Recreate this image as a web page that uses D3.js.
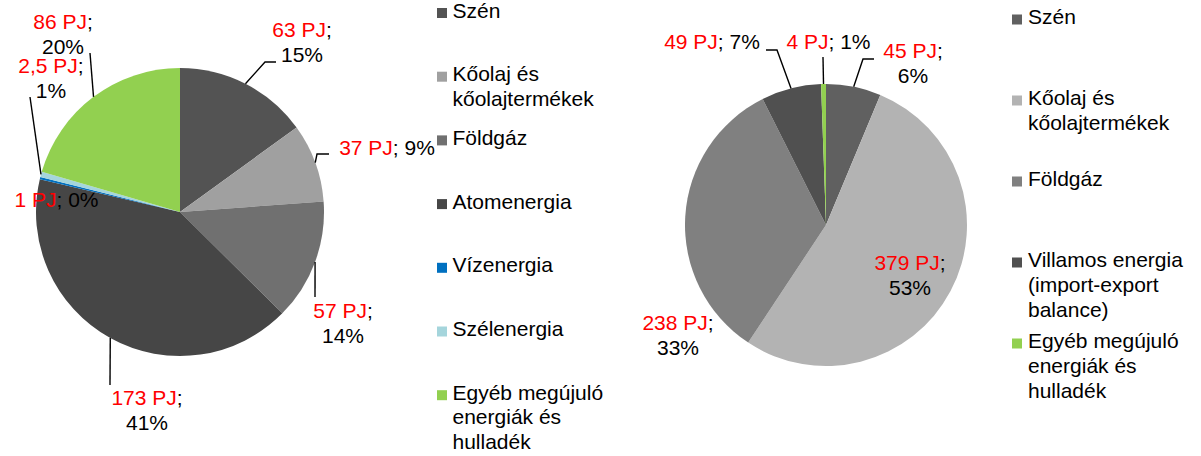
<!DOCTYPE html>
<html><head><meta charset="utf-8">
<script src="https://cdn.jsdelivr.net/npm/d3@7"></script>
<style>
html,body{margin:0;padding:0;background:#fff;}
svg{display:block;font-family:"Liberation Sans",Arial,sans-serif;}
</style></head>
<body>
<svg id="chart" width="1201" height="456"></svg>
<script>
// ---- data ----
const leftCategories = ["Szén","Kőolaj és kőolajtermékek","Földgáz","Atomenergia","Vízenergia","Szélenergia","Egyéb megújuló energiák és hulladék"];
const leftLegendLines = [["Szén"],["Kőolaj és","kőolajtermékek"],["Földgáz"],["Atomenergia"],["Vízenergia"],["Szélenergia"],["Egyéb megújuló","energiák és","hulladék"]];
const leftValues = [63, 37, 57, 173, 1, 2.5, 86];
const leftValueLabels = ["63 PJ","37 PJ","57 PJ","173 PJ","1 PJ","2,5 PJ","86 PJ"];
const leftPctLabels = ["15%","9%","14%","41%","0%","1%","20%"];

const rightCategories = ["Szén","Kőolaj és kőolajtermékek","Földgáz","Villamos energia (import-export balance)","Egyéb megújuló energiák és hulladék"];
const rightLegendLines = [["Szén"],["Kőolaj és","kőolajtermékek"],["Földgáz"],["Villamos energia","(import-export","balance)"],["Egyéb megújuló","energiák és","hulladék"]];
const rightValues = [45, 379, 238, 49, 4];
const rightValueLabels = ["45 PJ","379 PJ","238 PJ","49 PJ","4 PJ"];
const rightPctLabels = ["6%","53%","33%","7%","1%"];

// ---- styles / layout ----
const leftColors = ["#535353","#a0a0a0","#707070","#464646","#0070c0","#a5d5dc","#92d050"];
const rightColors = ["#606060","#b3b3b3","#808080","#505050","#92d050"];
const FS = 21;

// label layout relative to pie centre: [x, y(first baseline), oneLine, leaderPoints]
const leftLabelLayout = [
  [122,-175,false,[[85,-150],[96,-150]]],
  [207,-57,true,[[137,-58],[149,-58]]],
  [163,106,false,[[135,85]]],
  [-33,193,false,[[-70,173]]],
  [-123.5,-5,true,null],
  [-129,-139,false,[[-150,-115]]],
  [-117,-183,false,[[-90,-159]]]
];
const rightLabelLayout = [
  [87,-167,false,[[37,-166],[48,-166]]],
  [84,45,false,null],
  [-148,105,false,null],
  [-114,-176,true,[[-49,-175],[-60,-175]]],
  [2.5,-176,true,[[-3,-168]]]
];

const svg = d3.select("#chart");

function drawPie(cfg){
  const g = svg.append("g").attr("transform",`translate(${cfg.cx},${cfg.cy})`);
  const pie = d3.pie().sort(null).value(d=>d)(cfg.values);
  const arc = d3.arc().innerRadius(0).outerRadius(cfg.r);
  const edge = d3.arc().innerRadius(cfg.r).outerRadius(cfg.r);
  g.selectAll("path.slice").data(pie).join("path")
    .attr("class","slice")
    .attr("d",arc)
    .attr("fill",(d,i)=>cfg.colors[i]);
  pie.forEach((d,i)=>{
    const L = cfg.layout[i];
    if(L[3]){
      const pts = [edge.centroid(d)].concat(L[3]);
      g.append("path").attr("d",d3.line()(pts))
        .attr("fill","none").attr("stroke","#000").attr("stroke-width",1.4);
    }
    const t = g.append("text").attr("font-size",FS).attr("text-anchor","middle");
    if(L[2]){
      const line = t.append("tspan").attr("x",L[0]).attr("y",L[1]);
      line.append("tspan").attr("fill","#ff0000").text(cfg.valueLabels[i]);
      line.append("tspan").attr("fill","#000").text("; "+cfg.pctLabels[i]);
    } else {
      const l1 = t.append("tspan").attr("x",L[0]).attr("y",L[1]);
      l1.append("tspan").attr("fill","#ff0000").text(cfg.valueLabels[i]);
      l1.append("tspan").attr("fill","#000").text(";");
      t.append("tspan").attr("x",L[0]).attr("y",L[1]+24.5).attr("fill","#000").text(cfg.pctLabels[i]);
    }
  });
}

function drawLegend(cfg){
  const g = svg.append("g");
  const y = d3.scalePoint().domain(d3.range(cfg.lines.length)).range([cfg.y0, cfg.y0 + cfg.step*(cfg.lines.length-1)]);
  cfg.lines.forEach((lines,i)=>{
    const by = y(i);
    g.append("rect").attr("x",cfg.sx).attr("y",by-9.5).attr("width",10).attr("height",10).attr("fill",cfg.colors[i]);
    const t = g.append("text").attr("font-size",FS).attr("fill","#000");
    lines.forEach((s,j)=>{
      t.append("tspan").attr("x",cfg.tx).attr("y",by + j*cfg.lh).text(s);
    });
  });
}

drawPie({cx:180, cy:212, r:144, values:leftValues, colors:leftColors, layout:leftLabelLayout, valueLabels:leftValueLabels, pctLabels:leftPctLabels});
drawPie({cx:826, cy:225, r:141, values:rightValues, colors:rightColors, layout:rightLabelLayout, valueLabels:rightValueLabels, pctLabels:rightPctLabels});
drawLegend({lines:leftLegendLines, colors:leftColors, sx:437, tx:452.5, y0:17.5, step:63.7, lh:24.5});
drawLegend({lines:rightLegendLines, colors:rightColors, sx:1012, tx:1028, y0:24, step:81, lh:25});
</script>
</body></html>
